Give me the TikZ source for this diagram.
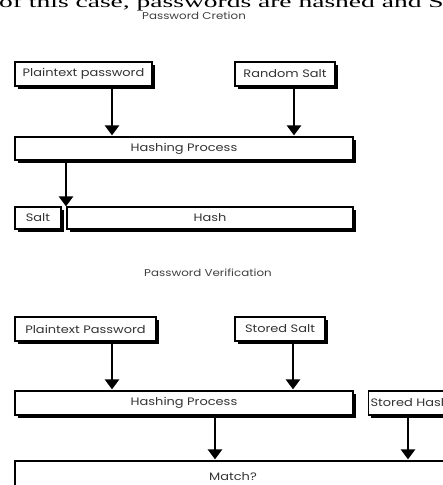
\documentclass[tikz,border=0pt]{standalone}
\usepackage{fontspec}
\setmainfont{Poppins}
\newfontfamily\boxfont[FakeStretch=1.2]{Poppins}
\newfontfamily\serifcut{Liberation Serif}
\usetikzlibrary{arrows.meta,shadows}
\tikzset{
  box/.style={draw=black, line width=1.2pt, fill=white, inner sep=0pt,
    font=\boxfont\fontsize{10.8}{11}\selectfont, text=black!80,
    drop shadow={shadow xshift=2.5pt, shadow yshift=-2.5pt, fill=black, opacity=1}},
  arr/.style={line width=2.6pt, -{Triangle[width=14pt,length=10pt]}, shorten >=1pt},
  ttl/.style={font=\boxfont\fontsize{9.9}{10}\selectfont, text=black!75, inner sep=0pt}
}
\begin{document}
\begin{tikzpicture}[x=1pt,y=-1pt]
\useasboundingbox (0,0) rectangle (443,485);
\clip (0,0) rectangle (443,485);
\fill[white] (0,0) rectangle (443,485);
% clipped running text at the top
\node[anchor=base west, inner sep=0pt, font=\serifcut\fontsize{27.5}{28}\selectfont] (cut) at (-1,7) {\scalebox{1}[0.6]{of this case, passwords are hashed and Salted}};
% Password creation
\node[ttl] (t1) at (194,16) {Password Cretion};
\node[box, minimum width=137, minimum height=24] (pp1) at (83.5,74) {Plaintext password};
\node[box, minimum width=100, minimum height=24] (rs) at (285,74) {Random Salt};
\node[box, minimum width=338, minimum height=23] (hp1) at (184,148.5) {Hashing Process};
\node[box, minimum width=46, minimum height=22] (salt) at (38,218) {Salt};
\node[box, minimum width=286, minimum height=22] (hash) at (210,218) {Hash};
\draw[arr] (pp1.south -| 112,0) -- (hp1.north -| 112,0);
\draw[arr] (rs.south -| 294,0) -- (hp1.north -| 294,0);
\draw[arr, shorten >=0pt] (hp1.south -| 66,0) -- (salt.north -| 66,0);
% Password verification
\node[ttl] (t2) at (208,273) {Password Verification};
\node[box, minimum width=141, minimum height=24] (pp2) at (85.5,329) {Plaintext Password};
\node[box, minimum width=90, minimum height=24] (ss) at (280,329) {Stored Salt};
\node[box, minimum width=338, minimum height=24] (hp2) at (184,403) {Hashing Process};
\node[box, minimum width=100, minimum height=24, anchor=west, align=left, text width=98] (sh) at (368,403) {\hspace*{1pt}Stored Hash};
\node[box, minimum width=436, minimum height=32] (match) at (233,477) {Match?};
\draw[arr] (pp2.south -| 112,0) -- (hp2.north -| 112,0);
\draw[arr] (ss.south -| 293,0) -- (hp2.north -| 293,0);
\draw[arr] (hp2.south -| 215,0) -- (match.north -| 215,0);
\draw[arr] (sh.south -| 408,0) -- (match.north -| 408,0);
\end{tikzpicture}
\end{document}
